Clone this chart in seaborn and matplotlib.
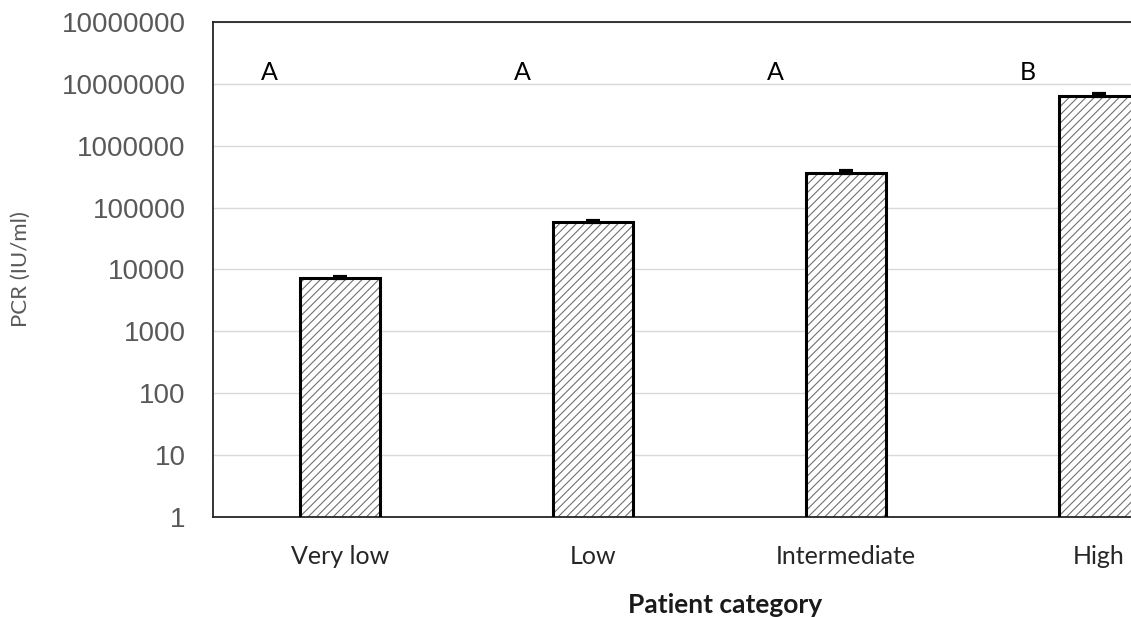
import matplotlib
matplotlib.use("Agg")
import matplotlib.pyplot as plt
import matplotlib.ticker as mticker
from matplotlib.patches import Rectangle
import seaborn as sns
import pandas as pd

# ==============================
# Datos
# ==============================
categorias = ["Very low", "Low", "Intermediate", "High"]
pcr_media = [7200, 57900, 359000, 6440000]
pcr_error = [440, 3600, 32000, 420000]
grupos = ["A", "A", "A", "B"]
ytick_vals = [1, 10, 100, 1000, 10000, 100000, 1000000, 10000000, 100000000]
ytick_labels = ["1", "10", "100", "1000", "10000", "100000", "1000000", "10000000", "10000000"]

df = pd.DataFrame({"Patient category": categorias, "PCR": pcr_media})

# ==============================
# Figura
# ==============================
sns.set_style("white")
plt.rcParams["font.family"] = ["Lato", "DejaVu Sans"]
plt.rcParams["hatch.linewidth"] = 0.8

fig = plt.figure(figsize=(11.31, 6.17), dpi=100)
ax = fig.add_axes([0.1886, 0.1621, 0.8948, 0.8023])

sns.barplot(data=df, x="Patient category", y="PCR", color="white",
            width=0.316, errorbar=None, ax=ax, zorder=2)
ax.set_yscale("log")

# rayado gris + borde negro
for p in ax.patches:
    p.set_hatch("////")
    p.set_edgecolor("#707070")
    p.set_linewidth(0)
    ax.add_patch(Rectangle(p.get_xy(), p.get_width(), p.get_height(),
                           fill=False, edgecolor="black", linewidth=2.2, zorder=3))

ax.errorbar(range(len(categorias)), pcr_media,
            yerr=[[0] * len(pcr_error), pcr_error],
            fmt="none", ecolor="black", elinewidth=1, capsize=5, capthick=3, zorder=4)

# letras de significancia
for i, g in enumerate(grupos):
    ax.text(i - 0.28, 1.53e7, g, ha="center", va="center", fontsize=18, color="black")

ax.set_ylim(1, 1e8)
ax.set_xlim(-0.5, 3.5)
ax.yaxis.set_major_locator(mticker.FixedLocator(ytick_vals))
ax.yaxis.set_major_formatter(mticker.FixedFormatter(ytick_labels))
ax.yaxis.set_minor_locator(mticker.NullLocator())
ax.grid(axis="y", color="#d9d9d9", linewidth=1, zorder=0)
ax.set_axisbelow(True)

# ticks del eje x en los limites de categorias (estilo Excel)
ax.set_xticks([-0.5, 0.5, 1.5, 2.5])
ax.set_xticklabels([])
ax.set_xticks(range(len(categorias)), minor=True)
ax.set_xticklabels(categorias, minor=True, fontsize=18, color="#262626")
ax.tick_params(axis="x", which="major", direction="inout", length=16, width=1, color="#404040")
ax.tick_params(axis="x", which="minor", length=0, pad=20)
ax.tick_params(axis="y", direction="inout", length=16, width=1.3, color="#262626",
               labelsize=20, labelcolor="#595959", pad=12)
for lab in ax.get_yticklabels():
    lab.set_fontfamily(["Liberation Sans", "DejaVu Sans"])

for s in ["left", "bottom", "top"]:
    ax.spines[s].set_color("#262626")
    ax.spines[s].set_linewidth(1.3)
ax.spines["right"].set_visible(False)

ax.set_xlabel("Patient category", fontsize=19, fontweight="bold", color="#1a1a1a")
ax.xaxis.set_label_coords(0.506, -0.153)
ax.set_ylabel("PCR (IU/ml)", fontsize=16, color="#595959")
ax.yaxis.set_label_coords(-0.18, 0.5)

fig.savefig("out.png", dpi=100)
